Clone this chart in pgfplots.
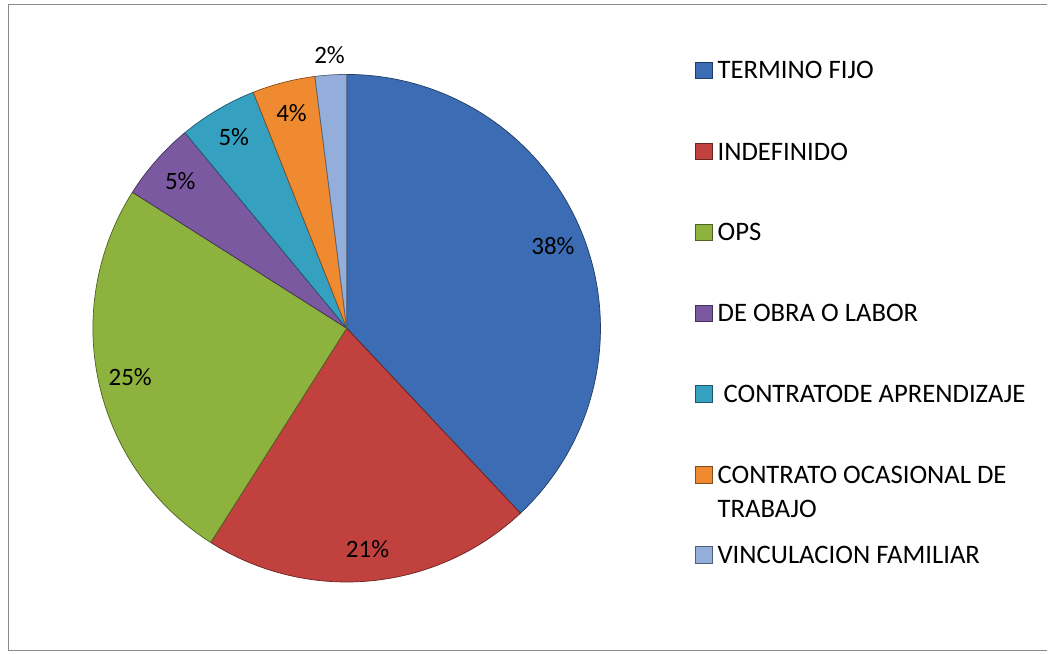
\documentclass[border=0pt]{standalone}
\usepackage{pgfplots}
\pgfplotsset{compat=1.18}
\usepackage{pgfplotstable}
\usepackage{fontspec}
\setmainfont{Carlito}

\definecolor{c0}{HTML}{3C6DB4}
\definecolor{c1}{HTML}{C0413D}
\definecolor{c2}{HTML}{8DB33E}
\definecolor{c3}{HTML}{7B59A0}
\definecolor{c4}{HTML}{35A0C0}
\definecolor{c5}{HTML}{EF8A31}
\definecolor{c6}{HTML}{93AEDA}
\definecolor{framegray}{HTML}{8A8A8A}

\newcommand\pctfont{\fontsize{25}{30}\selectfont}
\newcommand\legfont{\fontsize{26.7}{32}\selectfont}
\tikzset{
  lbl/.style={font=\pctfont, text=black, inner sep=0pt},
  slice0/.style={fill=c0, draw=c0!55!black},
  slice1/.style={fill=c1, draw=c1!55!black},
  slice2/.style={fill=c2, draw=c2!55!black},
  slice3/.style={fill=c3, draw=c3!55!black},
  slice4/.style={fill=c4, draw=c4!55!black},
  slice5/.style={fill=c5, draw=c5!55!black},
  slice6/.style={fill=c6, draw=c6!55!black},
}

% share of each contract type, %
\pgfplotstableread{
value
38
21
25
5
5
4
2
}\piedata

\newcommand\cx{347}
\newcommand\cy{325.5}
\newcommand\R{254}

% cumulative angles, clockwise from 12 o'clock
\def\cum{0}
\pgfplotsforeachungrouped \i in {0,...,6}{%
  \pgfplotstablegetelem{\i}{value}\of\piedata
  \let\pieV\pgfplotsretval
  \pgfmathsetmacro\pieA{90-3.6*\cum}%
  \pgfmathsetmacro\cum{\cum+\pieV}%
  \pgfmathsetmacro\pieB{90-3.6*\cum}%
  \pgfmathsetmacro\pieM{(\pieA+\pieB)/2}%
  \pgfmathsetmacro\pieR{\pieV<3 ? 274 : 222}%
  \pgfmathsetmacro\pieX{\cx+\pieR*cos(\pieM)}%
  \pgfmathsetmacro\pieY{\cy+\pieR*sin(\pieM)}%
  \expandafter\xdef\csname sa\i\endcsname{\pieA}%
  \expandafter\xdef\csname sb\i\endcsname{\pieB}%
  \expandafter\xdef\csname lx\i\endcsname{\pieX}%
  \expandafter\xdef\csname ly\i\endcsname{\pieY}%
  \expandafter\xdef\csname lv\i\endcsname{\pieV}%
}

\begin{document}
\begin{tikzpicture}
\begin{axis}[
  x=1pt, y=1pt,
  xmin=0, xmax=1048, ymin=0, ymax=654,
  hide axis, clip=false,
  legend style={
    at={(axis cs:696,639.1)}, anchor=north west,
    draw=none, fill=none, inner sep=0pt, outer sep=0pt,
    row sep=0pt, column sep=5pt,
    nodes={inner sep=0pt, outer sep=0pt, text depth=},
    font=\legfont,
  },
  legend cell align=left,
  legend image code/.code={
    \path (0pt,-16.5pt) (0pt,16.5pt);
    \filldraw[#1] (0pt,0pt) rectangle (16.5pt,16.5pt);
  },
]
\fill[white] (rel axis cs:0,0) rectangle (rel axis cs:1,1);
\draw[framegray, line width=1.8pt] (axis cs:1048,649.5) -- (axis cs:8.5,649.5)
  -- (axis cs:8.5,3) -- (axis cs:1048,3);

\pgfplotsinvokeforeach{0,...,6}{
  \ifnum#1=6 \addlegendimage{empty legend}\fi
  \edef\temp{\noexpand\addplot[slice#1, line width=0.7pt,
      domain=\csname sb#1\endcsname:\csname sa#1\endcsname, samples=90]
    ({\cx+\R*cos(x)},{\cy+\R*sin(x)}) -- (axis cs:\cx,\cy) -- cycle;}
  \temp
}
\pgfplotsinvokeforeach{0,...,6}{
  \edef\temp{\noexpand\node[lbl] at (axis cs:\csname lx#1\endcsname,\csname ly#1\endcsname)
    {\csname lv#1\endcsname\noexpand\%};}
  \temp
}

\legend{
  \rule[-64pt]{0pt}{128pt}TERMINO FIJO,
  \rule[-16.5pt]{0pt}{33pt}INDEFINIDO,
  \rule[-64pt]{0pt}{128pt}OPS,
  \rule[-16.5pt]{0pt}{33pt}DE OBRA O LABOR,
  \rule[-64pt]{0pt}{128pt}\hspace{6pt}CONTRATODE APRENDIZAJE,
  \rule[-16.5pt]{0pt}{33pt}CONTRATO OCASIONAL DE,
  \rule[-16.5pt]{0pt}{33pt}TRABAJO,
  \rule[-29.5pt]{0pt}{59pt}VINCULACION FAMILIAR
}
\end{axis}
\end{tikzpicture}
\end{document}
